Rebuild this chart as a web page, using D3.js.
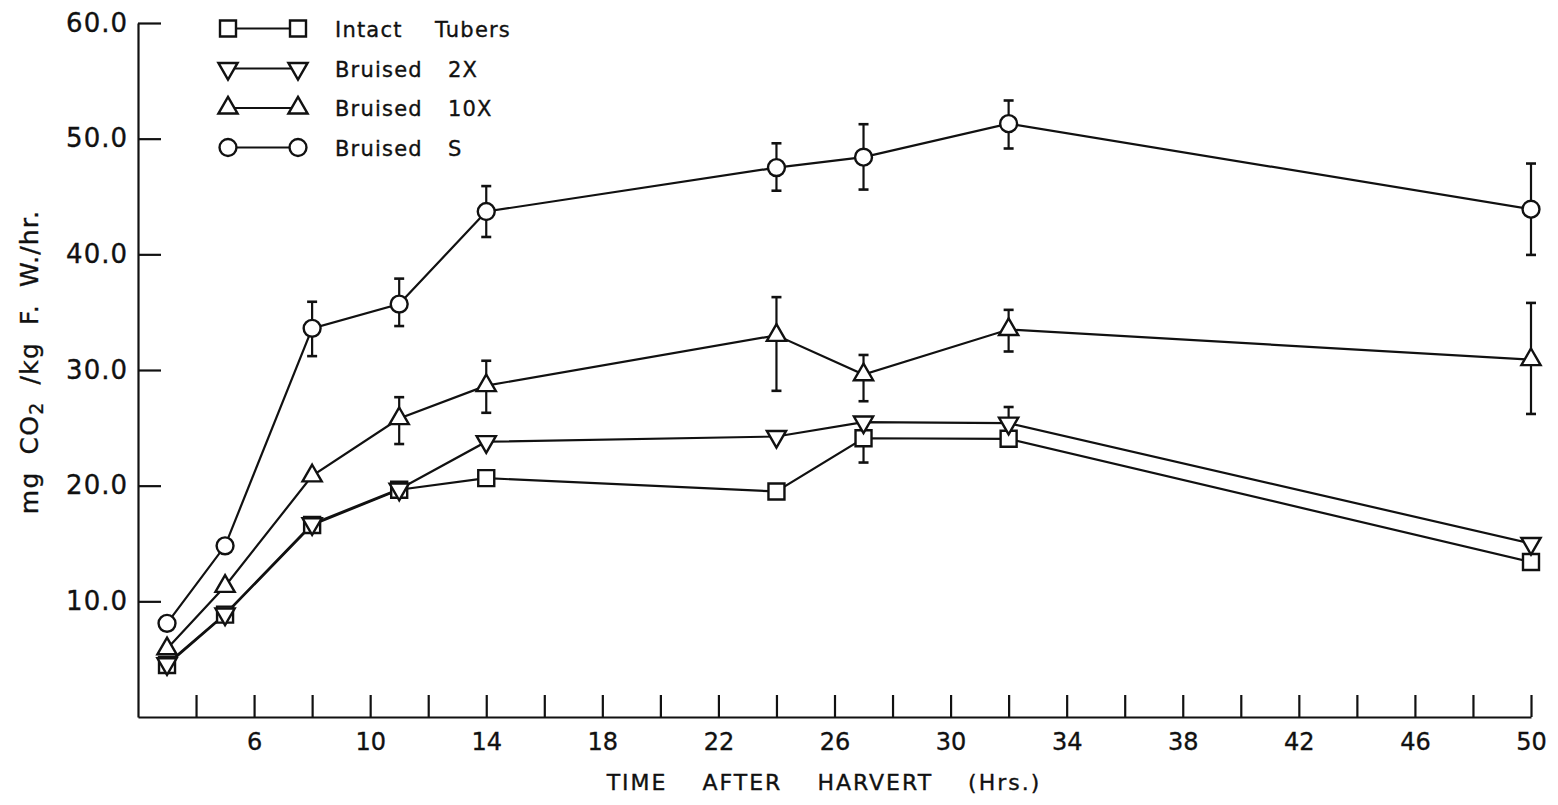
<!DOCTYPE html>
<html>
<head>
<meta charset="utf-8">
<script src="https://cdn.jsdelivr.net/npm/d3@7"></script>
<style>
  body { margin: 0; background: #fff; }
  text { fill: #111; stroke: #111; stroke-width: 0.35px; font-family: "DejaVu Sans", sans-serif; }
</style>
</head>
<body>
<div id="chart"></div>
<script>
// hours after harvest
var times = [3, 5, 8, 11, 14, 24, 27, 32, 50];

// mg CO2 / kg F.W. / hr
var intactTubers = [4.5, 8.85, 16.6, 19.65, 20.65, 19.5, 24.1, 24.05, 13.4];
var bruised2X = [4.6, 8.9, 16.7, 19.7, 23.8, 24.25, 25.5, 25.4, 15.0];
var bruised10X = [5.9, 11.3, 20.85, 25.8, 28.65, 33.0, 29.6, 33.5, 30.9];
var bruisedS = [8.1, 14.8, 33.6, 35.7, 43.7, 47.5, 48.4, 51.3, 43.9];

// error bars as [below, above]
var intactErr = [[0, 0], [0, 0], [0, 0], [0, 0], [0, 0], [0, 0], [2.1, 0], [0.45, 0.45], [0, 0]];
var bruised2XErr = [[0, 0], [0, 0], [0, 0], [0, 0], [0, 0], [0, 0], [0, 0], [1.4, 1.4], [0, 0]];
var bruised10XErr = [[0, 0], [0, 0], [0, 0], [2.2, 1.85], [2.35, 2.15], [4.8, 3.3], [2.3, 1.7], [1.9, 1.7], [4.7, 4.9]];
var bruisedSErr = [[0, 0], [0, 0], [2.4, 2.3], [1.9, 2.2], [2.2, 2.2], [2.0, 2.1], [2.8, 2.85], [2.15, 2.0], [3.95, 3.95]];

var seriesNames = ["Intact Tubers", "Bruised 2X", "Bruised 10X", "Bruised S"];
var seriesSymbols = ["square", "down", "up", "circle"];

var xTicks = [4, 6, 8, 10, 12, 14, 16, 18, 20, 22, 24, 26, 28, 30, 32, 34, 36, 38, 40, 42, 44, 46, 48, 50];
var xTickLabels = [6, 10, 14, 18, 22, 26, 30, 34, 38, 42, 46, 50];
var yTicks = [10, 20, 30, 40, 50, 60];

var svgWidth = 1558;
var svgHeight = 805;

var svg = d3.select("#chart")
  .append("svg")
  .attr("width", svgWidth)
  .attr("height", svgHeight);

var xScale = d3.scaleLinear().domain([2, 50]).range([138, 1531]);
var yScale = d3.scaleLinear().domain([0, 60]).range([717, 23]);

// axes, ticks point into the plot
var xAxis = d3.axisBottom(xScale)
  .tickValues(xTicks)
  .tickSizeInner(-22)
  .tickSizeOuter(0)
  .tickPadding(16)
  .tickFormat(d => xTickLabels.indexOf(d) >= 0 ? d : "");

var yAxis = d3.axisLeft(yScale)
  .tickValues(yTicks)
  .tickSizeInner(-23)
  .tickSizeOuter(0)
  .tickPadding(10)
  .tickFormat(d3.format(".1f"));

var xAxisGroup = svg.append("g")
  .attr("transform", `translate(0, ${yScale(0)})`)
  .call(xAxis);

xAxisGroup.selectAll("text")
  .style("font-size", "24px");

var yAxisGroup = svg.append("g")
  .attr("transform", `translate(${xScale(2)}, 0)`)
  .call(yAxis);

yAxisGroup.selectAll("text")
  .style("font-size", "26px")
  .style("letter-spacing", "1px");

svg.selectAll(".domain, .tick line")
  .attr("stroke", "#111")
  .attr("stroke-width", 2.2);

// axis titles
svg.append("text")
  .attr("x", 824)
  .attr("y", 790)
  .attr("text-anchor", "middle")
  .style("font-size", "22px")
  .style("letter-spacing", "2px")
  .style("word-spacing", "26px")
  .text("TIME AFTER HARVERT (Hrs.)");

var yLabel = svg.append("text")
  .attr("transform", "translate(38, 362) rotate(-90)")
  .attr("text-anchor", "middle")
  .style("font-size", "25px")
  .style("letter-spacing", "1.2px")
  .style("word-spacing", "8px");
yLabel.append("tspan").text("mg CO");
yLabel.append("tspan").attr("baseline-shift", "-25%").style("font-size", "19px").text("2");
yLabel.append("tspan").text(" /kg F. W./hr.");

// markers
function drawMarker(g, kind, cx, cy) {
  var m;
  if (kind === "square") {
    m = g.append("path").attr("d", d3.symbol().type(d3.symbolSquare).size(256)());
  } else if (kind === "circle") {
    m = g.append("path").attr("d", d3.symbol().type(d3.symbolCircle).size(225)());
  } else {
    m = g.append("path").attr("d", d3.symbol().type(d3.symbolTriangle).size(160)());
  }
  var rot = kind === "down" ? " rotate(180)" : "";
  m.attr("transform", `translate(${cx}, ${cy})${rot}`)
    .attr("fill", "#fff")
    .attr("stroke", "#111")
    .attr("stroke-width", 2.4);
}

var allSeries = [
  { values: intactTubers, err: intactErr },
  { values: bruised2X, err: bruised2XErr },
  { values: bruised10X, err: bruised10XErr },
  { values: bruisedS, err: bruisedSErr }
];

var line = d3.line()
  .x(d => xScale(d[0]))
  .y(d => yScale(d[1]));

var plotGroup = svg.append("g");

// lines first
allSeries.forEach(function(s) {
  plotGroup.append("path")
    .datum(times.map((t, i) => [t, s.values[i]]))
    .attr("d", line)
    .attr("fill", "none")
    .attr("stroke", "#111")
    .attr("stroke-width", 2.2);
});

// error bars
allSeries.forEach(function(s) {
  times.forEach(function(t, i) {
    var e = s.err[i];
    if (e[0] === 0 && e[1] === 0) return;
    var x = xScale(t);
    var lo = yScale(s.values[i] - e[0]);
    var hi = yScale(s.values[i] + e[1]);
    plotGroup.append("line")
      .attr("x1", x).attr("x2", x)
      .attr("y1", lo).attr("y2", hi)
      .attr("stroke", "#111").attr("stroke-width", 2.2);
    [[e[0], lo], [e[1], hi]].forEach(function(c) {
      if (c[0] === 0) return;
      plotGroup.append("line")
        .attr("x1", x - 5).attr("x2", x + 5)
        .attr("y1", c[1]).attr("y2", c[1])
        .attr("stroke", "#111").attr("stroke-width", 2.6);
    });
  });
});

// markers on top
allSeries.forEach(function(s, k) {
  times.forEach(function(t, i) {
    drawMarker(plotGroup, seriesSymbols[k], xScale(t), yScale(s.values[i]));
  });
});

// legend
var legendRows = [28.5, 68.5, 108, 147.5];
var legend = svg.append("g");

seriesNames.forEach(function(name, k) {
  var ry = legendRows[k];
  legend.append("line")
    .attr("x1", 228).attr("x2", 298)
    .attr("y1", ry).attr("y2", ry)
    .attr("stroke", "#111").attr("stroke-width", 2);
  drawMarker(legend, seriesSymbols[k], 228, ry);
  drawMarker(legend, seriesSymbols[k], 298, ry);

  var words = name.split(" ");
  var txt = legend.append("text")
    .attr("y", ry + 8)
    .style("font-size", "21px")
    .style("letter-spacing", "1.2px");
  txt.append("tspan").attr("x", 335).text(words[0]);
  txt.append("tspan").attr("x", k === 0 ? 435 : 448).text(words[1]);
});
</script>
</body>
</html>
